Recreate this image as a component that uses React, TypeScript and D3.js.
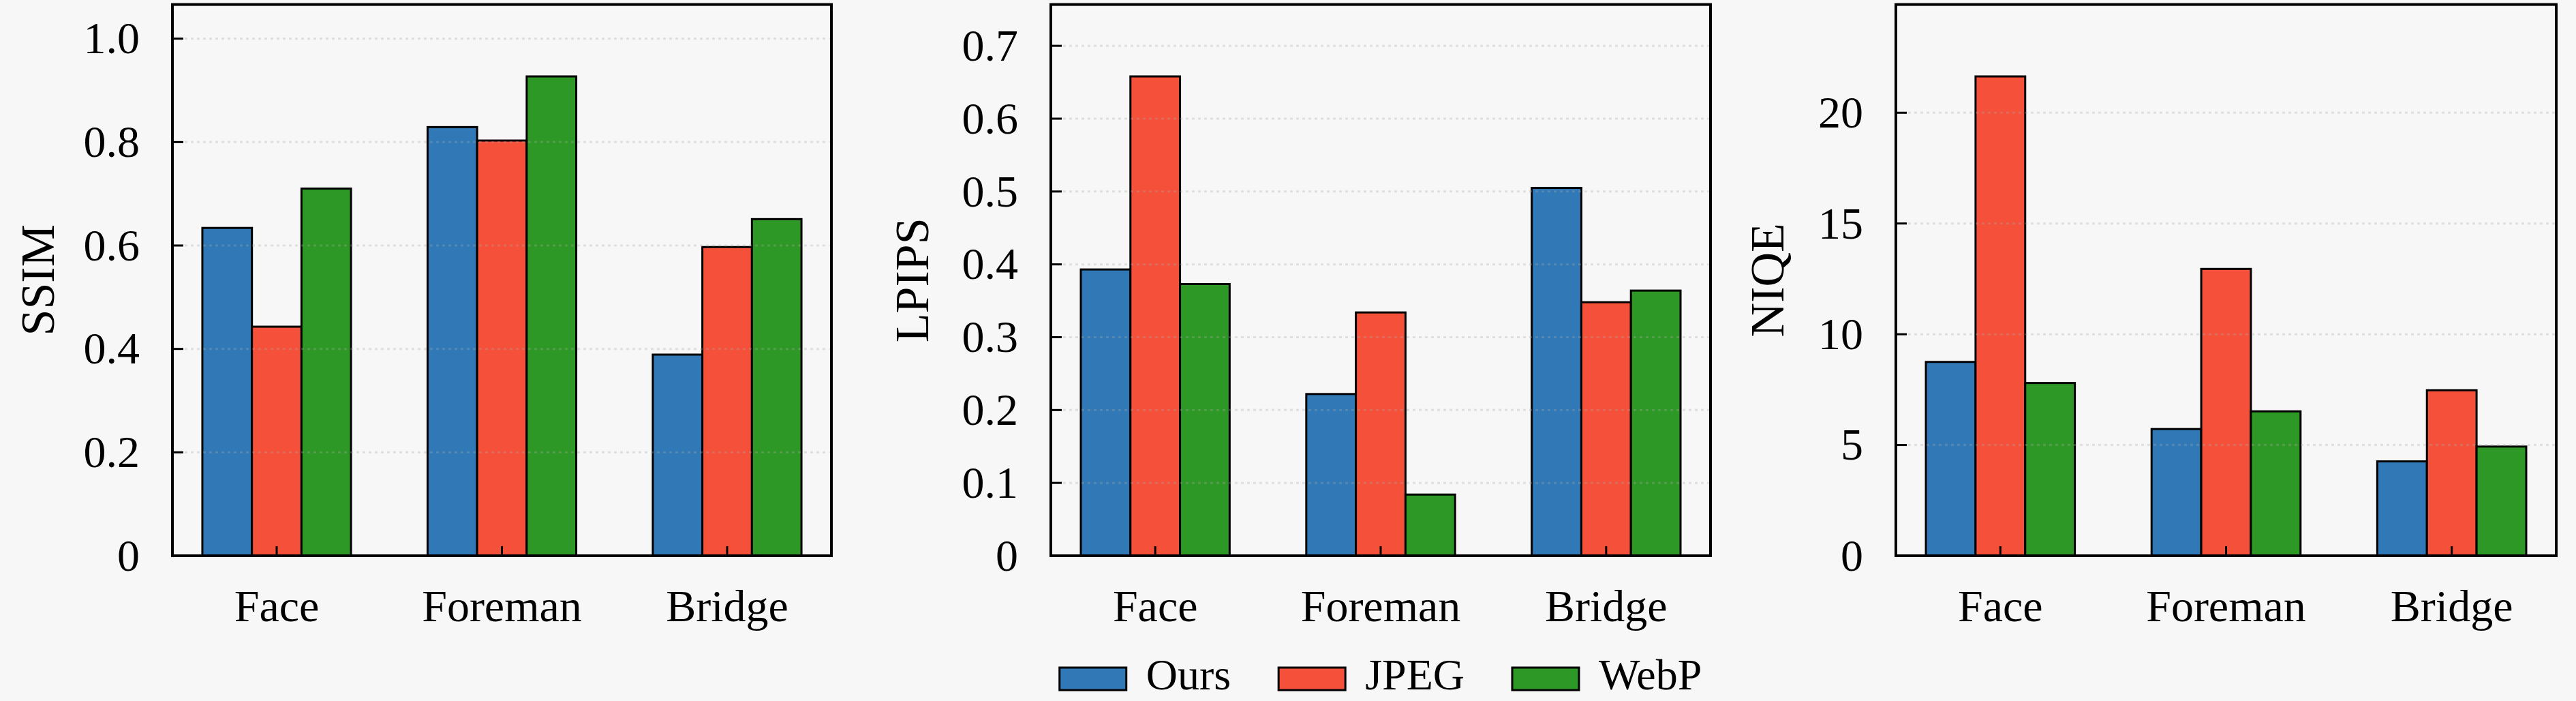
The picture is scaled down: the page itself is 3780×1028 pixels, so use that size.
import React, { useEffect, useRef } from 'react';
import * as d3 from 'd3';

const categories = ['Face', 'Foreman', 'Bridge'];
const methods = ['Ours', 'JPEG', 'WebP'];
const colours = ['#3079b6', '#f5513a', '#2e9826'];

const ssimOurs = [0.634, 0.829, 0.389];
const ssimJpeg = [0.443, 0.803, 0.597];
const ssimWebp = [0.710, 0.927, 0.651];

const lpipsOurs = [0.393, 0.222, 0.505];
const lpipsJpeg = [0.658, 0.334, 0.348];
const lpipsWebp = [0.373, 0.084, 0.364];

const niqeOurs = [8.75, 5.72, 4.26];
const niqeJpeg = [21.64, 12.95, 7.47];
const niqeWebp = [7.80, 6.52, 4.93];

const ssimTicks = [0, 0.2, 0.4, 0.6, 0.8, 1.0];
const lpipsTicks = [0, 0.1, 0.2, 0.3, 0.4, 0.5, 0.6, 0.7];
const niqeTicks = [0, 5, 10, 15, 20];

const WIDTH = 3780;
const HEIGHT = 1028;
const FONT = "'Liberation Serif', 'DejaVu Serif', 'Times New Roman', Tinos, Times, serif";
const FS = 66;

interface Panel {
  label: string;
  series: number[][];
  ticks: number[];
  fmt: (v: number) => string;
  left: number;
  right: number;
  labelX: number;
}

const fmt1 = (v: number) => (v === 0 ? '0' : v.toFixed(1));
const fmt0 = (v: number) => String(v);

const panels: Panel[] = [
  { label: 'SSIM', series: [ssimOurs, ssimJpeg, ssimWebp], ticks: ssimTicks, fmt: fmt1, left: 253, right: 1220, labelX: 79 },
  { label: 'LPIPS', series: [lpipsOurs, lpipsJpeg, lpipsWebp], ticks: lpipsTicks, fmt: fmt1, left: 1542, right: 2510, labelX: 1362 },
  { label: 'NIQE', series: [niqeOurs, niqeJpeg, niqeWebp], ticks: niqeTicks, fmt: fmt0, left: 2782, right: 3751, labelX: 2617 },
];

const TOP = 6.6;
const BOTTOM = 815;
const BAR_W = 0.22;

const App: React.FC = () => {
  const svgRef = useRef<SVGSVGElement>(null);

  useEffect(() => {
    const svg = d3.select(svgRef.current);
    svg.selectAll('*').remove();

    svg.append('rect')
      .attr('width', WIDTH)
      .attr('height', HEIGHT)
      .attr('fill', '#f7f7f7');

    panels.forEach(p => {
      const maxV = d3.max(p.series.flat()) as number;
      const y = d3.scaleLinear().domain([0, maxV * 1.15]).range([BOTTOM, TOP]);
      // matplotlib-like margins around the bar extent
      const lo = -1.5 * BAR_W;
      const hi = categories.length - 1 + 1.5 * BAR_W;
      const pad = (hi - lo) * 0.05;
      const x = d3.scaleLinear().domain([lo - pad, hi + pad]).range([p.left, p.right]);

      const g = svg.append('g');

      // bars
      p.series.forEach((vals, j) => {
        g.selectAll(null)
          .data(vals)
          .enter().append('rect')
          .attr('x', (_d, i) => x(i + (j - 1) * BAR_W - BAR_W / 2))
          .attr('width', x(BAR_W) - x(0))
          .attr('y', d => y(d))
          .attr('height', d => BOTTOM - y(d))
          .attr('fill', colours[j])
          .attr('stroke', '#000')
          .attr('stroke-width', 3);
      });

      // dotted grid (drawn over bars, faint)
      g.selectAll(null)
        .data(p.ticks)
        .enter().append('line')
        .attr('x1', p.left)
        .attr('x2', p.right)
        .attr('y1', d => y(d))
        .attr('y2', d => y(d))
        .attr('stroke', '#a8a8a8')
        .attr('stroke-opacity', 0.3)
        .attr('stroke-width', 3)
        .attr('stroke-dasharray', '4,5');

      // y ticks (inward)
      g.selectAll(null)
        .data(p.ticks)
        .enter().append('line')
        .attr('x1', p.left)
        .attr('x2', p.left + 16)
        .attr('y1', d => y(d))
        .attr('y2', d => y(d))
        .attr('stroke', '#000')
        .attr('stroke-width', 3);

      g.selectAll(null)
        .data(p.ticks)
        .enter().append('text')
        .attr('x', p.left - 48)
        .attr('y', d => y(d) + FS * 0.33)
        .attr('text-anchor', 'end')
        .style('font-family', FONT)
        .attr('font-size', FS)
        .attr('fill', '#000')
        .text(d => p.fmt(d));

      // x ticks (inward) and labels
      g.selectAll(null)
        .data(categories)
        .enter().append('line')
        .attr('x1', (_d, i) => x(i))
        .attr('x2', (_d, i) => x(i))
        .attr('y1', BOTTOM)
        .attr('y2', BOTTOM - 14)
        .attr('stroke', '#000')
        .attr('stroke-width', 3);

      g.selectAll(null)
        .data(categories)
        .enter().append('text')
        .attr('x', (_d, i) => x(i))
        .attr('y', 911)
        .attr('text-anchor', 'middle')
        .style('font-family', FONT)
        .attr('font-size', FS)
        .attr('fill', '#000')
        .text(d => d);

      // frame
      g.append('rect')
        .attr('x', p.left)
        .attr('y', TOP)
        .attr('width', p.right - p.left)
        .attr('height', BOTTOM - TOP)
        .attr('fill', 'none')
        .attr('stroke', '#000')
        .attr('stroke-width', 4);

      // y label
      g.append('text')
        .attr('transform', `translate(${p.labelX},${(TOP + BOTTOM) / 2}) rotate(-90)`)
        .attr('text-anchor', 'middle')
        .style('font-family', FONT)
        .attr('font-size', FS + 4)
        .attr('fill', '#000')
        .text(p.label);
    });

    // legend centred under the middle panel
    const mid = panels[1];
    const legend = svg.append('g');
    const items = legend.selectAll(null)
      .data(methods)
      .enter().append('g');
    items.append('rect')
      .attr('width', 98)
      .attr('height', 33)
      .attr('y', 979)
      .attr('fill', (_d, i) => colours[i])
      .attr('stroke', '#000')
      .attr('stroke-width', 3);
    items.append('text')
      .attr('x', 127)
      .attr('y', 1011)
      .style('font-family', FONT)
      .attr('font-size', FS - 2)
      .attr('fill', '#000')
      .text(d => d);

    const widths: number[] = [];
    items.select('text').each(function () {
      widths.push(127 + (this as SVGTextElement).getComputedTextLength());
    });
    const gap = 70;
    const total = d3.sum(widths) + gap * (widths.length - 1);
    let cx = (mid.left + mid.right) / 2 - total / 2;
    items.attr('transform', (_d, i) => {
      const t = `translate(${cx},0)`;
      cx += widths[i] + gap;
      return t;
    });
  }, []);

  return (
    <svg
      ref={svgRef}
      width={WIDTH}
      height={HEIGHT}
      style={{ position: 'absolute', left: 0, top: 0, display: 'block' }}
    />
  );
};

export default App;
